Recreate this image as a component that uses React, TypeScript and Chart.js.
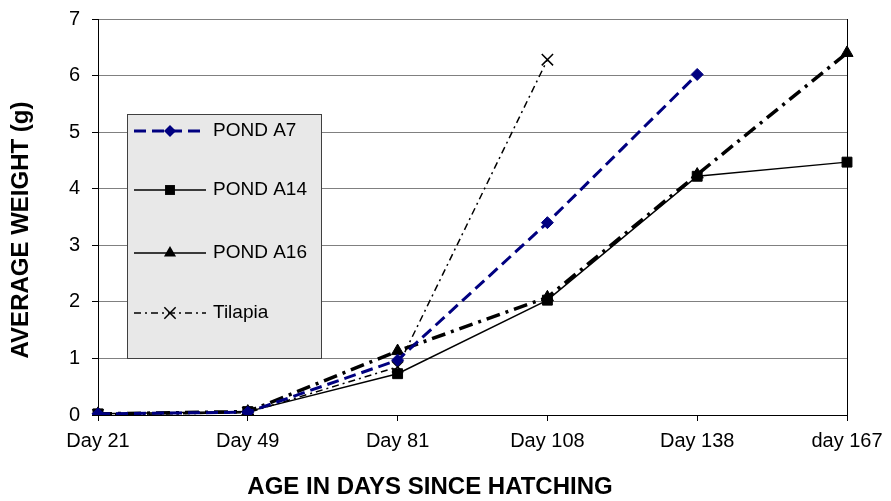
import React, { useEffect, useRef } from "react";
import { Chart, registerables } from "chart.js";

Chart.register(...registerables);

const categories = ["Day 21", "Day 49", "Day 81", "Day 108", "Day 138", "day 167"];
const pondA7 = [0.02, 0.05, 0.97, 3.4, 6.02, null];
const pondA14 = [0.02, 0.06, 0.73, 2.03, 4.22, 4.47];
const pondA16 = [0.02, 0.06, 1.13, 2.08, 4.25, 6.4];
const tilapia = [0.0, 0.04, 0.85, 6.28, null, null];
const yTicks = [0, 1, 2, 3, 4, 5, 6, 7];

const xTitle = "AGE IN DAYS SINCE HATCHING";
const yTitle = "AVERAGE WEIGHT (g)";

const FONT = '"Liberation Sans", Arial, sans-serif';

type Series = {
  label: string;
  color: string;
  width: number;
  dash: number[];
  legendWidth: number;
  legendDash: number[];
  style: string;
  radius: number;
};

const seriesStyles: Series[] = [
  { label: "POND A7", color: "#000080", width: 3, dash: [12, 6], legendWidth: 3, legendDash: [12, 6], style: "rectRot", radius: 6 },
  { label: "POND A14", color: "#000000", width: 1.5, dash: [], legendWidth: 1.5, legendDash: [], style: "rect", radius: 7 },
  { label: "POND A16", color: "#000000", width: 3.5, dash: [14, 6, 3, 6], legendWidth: 1.5, legendDash: [], style: "triangle", radius: 7 },
  { label: "Tilapia", color: "#000000", width: 1.5, dash: [7, 4, 2, 4], legendWidth: 1.5, legendDash: [7, 4, 2, 4], style: "crossRot", radius: 8 },
];

function drawMarker(ctx: CanvasRenderingContext2D, s: Series, x: number, y: number) {
  ctx.save();
  ctx.setLineDash([]);
  ctx.fillStyle = s.color;
  ctx.strokeStyle = s.color;
  ctx.lineWidth = 1;
  const r = s.radius;
  ctx.beginPath();
  if (s.style === "rectRot") {
    ctx.moveTo(x, y - r);
    ctx.lineTo(x + r, y);
    ctx.lineTo(x, y + r);
    ctx.lineTo(x - r, y);
    ctx.closePath();
    ctx.fill();
  } else if (s.style === "rect") {
    const h = Math.SQRT1_2 * r;
    ctx.rect(x - h, y - h, 2 * h, 2 * h);
    ctx.fill();
  } else if (s.style === "triangle") {
    const a = (Math.PI * 2) / 3;
    ctx.moveTo(x, y - r);
    ctx.lineTo(x + Math.sin(a) * r, y - Math.cos(a) * r);
    ctx.lineTo(x - Math.sin(a) * r, y - Math.cos(a) * r);
    ctx.closePath();
    ctx.fill();
  } else if (s.style === "crossRot") {
    const d = Math.SQRT1_2 * r;
    ctx.lineWidth = 1.5;
    ctx.moveTo(x - d, y - d);
    ctx.lineTo(x + d, y + d);
    ctx.moveTo(x - d, y + d);
    ctx.lineTo(x + d, y - d);
    ctx.stroke();
  }
  ctx.restore();
}

const overlayPlugin = {
  id: "overlay",
  afterDatasetsDraw(chart: any) {
    const { ctx, chartArea } = chart;
    ctx.save();
    // right border
    ctx.strokeStyle = "#000";
    ctx.lineWidth = 1;
    ctx.beginPath();
    ctx.moveTo(Math.round(chartArea.right) + 0.5, chartArea.top);
    ctx.lineTo(Math.round(chartArea.right) + 0.5, chartArea.bottom);
    ctx.stroke();

    // legend box
    const bx = chartArea.left + 29;
    const by = chartArea.top + 95;
    const bw = 194;
    const bh = 244;
    ctx.fillStyle = "#e8e8e8";
    ctx.fillRect(bx, by, bw, bh);
    ctx.strokeStyle = "#404040";
    ctx.strokeRect(bx + 0.5, by + 0.5, bw, bh);

    const rows = [17, 76, 139, 199];
    seriesStyles.forEach((s, i) => {
      const y = by + rows[i];
      ctx.save();
      ctx.strokeStyle = s.color;
      ctx.lineWidth = s.legendWidth;
      ctx.setLineDash(s.legendDash);
      ctx.beginPath();
      ctx.moveTo(bx + 7, y);
      ctx.lineTo(bx + 79, y);
      ctx.stroke();
      ctx.restore();
      drawMarker(ctx, s, bx + 43, y);
      ctx.fillStyle = "#000";
      ctx.font = "19px " + FONT;
      ctx.textBaseline = "middle";
      ctx.textAlign = "left";
      ctx.fillText(s.label, bx + 86, y);
    });

    // axis titles
    ctx.fillStyle = "#000";
    ctx.font = "bold 24px " + FONT;
    ctx.textAlign = "center";
    ctx.textBaseline = "middle";
    ctx.fillText(xTitle, 430, 487);
    ctx.save();
    ctx.translate(21, 230);
    ctx.rotate(-Math.PI / 2);
    ctx.fillText(yTitle, 0, 0);
    ctx.restore();
    ctx.restore();
  },
};

export default function App() {
  const ref = useRef<HTMLCanvasElement | null>(null);

  useEffect(() => {
    document.body.style.margin = "0";
    const canvas = ref.current;
    if (!canvas) return;
    const series = [pondA7, pondA14, pondA16, tilapia];
    const chart = new Chart(canvas, {
      type: "line",
      data: {
        labels: categories,
        datasets: series.map((d, i) => {
          const s = seriesStyles[i];
          return {
            label: s.label,
            data: d,
            borderColor: s.color,
            backgroundColor: s.color,
            borderWidth: s.width,
            borderDash: s.dash,
            pointStyle: s.style as any,
            pointRadius: s.radius,
            pointBackgroundColor: s.color,
            pointBorderColor: s.color,
            pointBorderWidth: s.style === "crossRot" ? 1.5 : 1,
            tension: 0,
            fill: false,
          };
        }),
      },
      options: {
        responsive: false,
        animation: false,
        layout: { padding: { top: 19, right: 44, left: 0, bottom: 0 } },
        plugins: {
          legend: { display: false },
          tooltip: { enabled: false },
        },
        scales: {
          x: {
            type: "category",
            offset: false,
            grid: {
              drawOnChartArea: false,
              drawTicks: true,
              tickLength: 6,
              tickColor: "#000",
            },
            border: { display: true, color: "#000", width: 1 },
            ticks: {
              color: "#000",
              font: { family: FONT, size: 20 },
              padding: 8,
              maxRotation: 0,
              autoSkip: false,
            },
            afterFit: (scale: any) => {
              scale.height = 86;
              scale.paddingLeft = 0;
              scale.paddingRight = 0;
            },
          },
          y: {
            min: 0,
            max: 7,
            afterBuildTicks: (scale: any) => {
              scale.ticks = yTicks.map((v) => ({ value: v }));
            },
            grid: {
              color: "#808080",
              lineWidth: 1,
              tickLength: 6,
              tickColor: "#000",
            },
            border: { display: true, color: "#000", width: 1 },
            ticks: {
              color: "#000",
              font: { family: FONT, size: 20 },
              padding: 12,
            },
            afterFit: (scale: any) => {
              scale.width = 98;
              scale.paddingTop = 0;
              scale.paddingBottom = 0;
            },
          },
        },
      },
      plugins: [overlayPlugin],
    });
    return () => chart.destroy();
  }, []);

  return (
    <div style={{ position: "absolute", left: 0, top: 0, width: 891, height: 501 }}>
      <canvas ref={ref} width={891} height={501} />
    </div>
  );
}
